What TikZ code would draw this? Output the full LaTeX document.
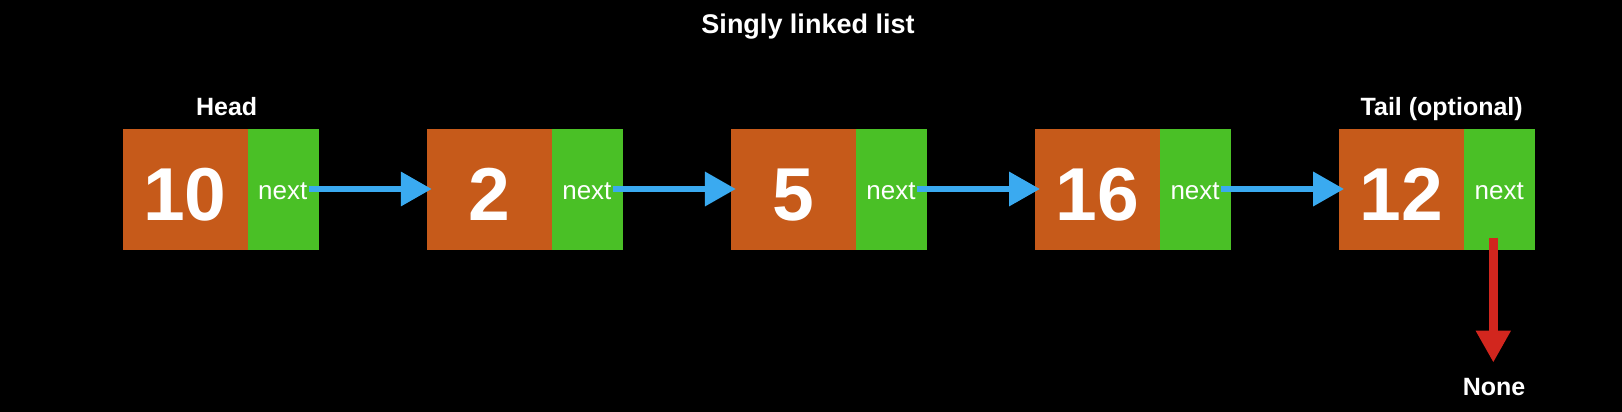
\documentclass[tikz,border=0pt]{standalone}
\usepackage{fontspec}
\setmainfont{Liberation Sans}
\usetikzlibrary{arrows.meta}
\definecolor{cellorange}{RGB}{198,90,26}
\definecolor{cellgreen}{RGB}{74,192,38}
\definecolor{arrowblue}{RGB}{58,170,240}
\definecolor{arrowred}{RGB}{210,38,30}
\tikzset{
  valcell/.style={fill=cellorange, draw=none, minimum width=124.6pt, minimum height=121pt, inner sep=0pt, anchor=north west},
  nextcell/.style={fill=cellgreen, draw=none, minimum width=71pt, minimum height=121pt, inner sep=0pt, anchor=north west},
  digit/.style={text=white, inner sep=0pt, anchor=base, font=\fontsize{75}{75}\selectfont\bfseries},
  nexttext/.style={text=white, inner sep=0pt, anchor=base, font=\fontsize{26}{26}\selectfont},
  label/.style={text=white, inner sep=0pt, anchor=base, font=\fontsize{25}{25}\selectfont\bfseries},
  linkarrow/.style={draw=arrowblue, line width=6.7pt, -{Triangle[length=31pt,width=33pt]}, shorten <=-10pt, shorten >=-5pt},
  nullarrow/.style={draw=arrowred, line width=9pt, -{Triangle[length=32pt,width=33pt]}, shorten >=15pt},
}
\begin{document}
\begin{tikzpicture}[x=1pt,y=-1pt]
\fill[black] (0,0) rectangle (1622,412);
\useasboundingbox (0,0) rectangle (1622,412);
\node[label, font=\fontsize{27}{27}\selectfont\bfseries] (title) at (808,34) {Singly linked list};
\foreach \i/\v in {1/10,2/2,3/5,4/16,5/12}{
  \pgfmathsetmacro{\xl}{122.7+(\i-1)*304.1}
  \node[valcell] (v\i) at (\xl,128.3) {};
  \node[nextcell] (g\i) at (\xl+124.6,128.3) {};
  \node[digit] (d\i) at (\xl+62.3,220) {\v};
  \node[nexttext] (n\i) at (\xl+124.6+35.5,199) {next};
}
\node[label] (head) at (226.7,115) {Head};
\node[label] (tail) at (1441.7,115) {Tail (optional)};
\node[label] (none) at (1494,395) {None};
\foreach \i/\j in {1/2,2/3,3/4,4/5}{
  \draw[linkarrow] (g\i.east |- 0,189) -- (v\j.west |- 0,189);
}
\coordinate (rs) at (1493.3,237.7);
\draw[nullarrow] (rs) -- (rs |- none.north);
\end{tikzpicture}
\end{document}
